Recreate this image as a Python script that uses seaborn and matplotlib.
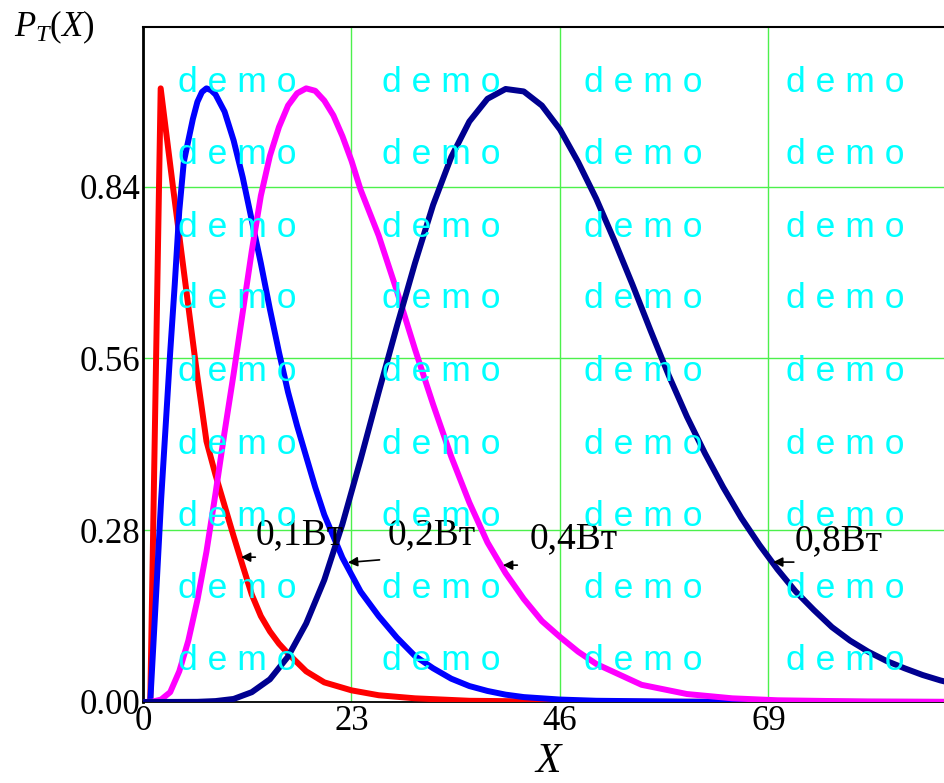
import numpy as np
import pandas as pd
import matplotlib
matplotlib.use('Agg')
import matplotlib.pyplot as plt
import seaborn as sns

# curve samples (X, P_T(X))
x_01 = [0, 0.8, 1.95, 3.3, 4, 5, 6, 7, 8, 9, 10, 11, 12, 13, 14, 15, 16, 18, 20, 23, 26, 30, 36, 46, 92]
p_01 = [0, 0, 1.0, 0.84, 0.76, 0.645, 0.53, 0.425, 0.37, 0.32, 0.27, 0.222, 0.175, 0.14, 0.115, 0.095,
        0.079, 0.05, 0.032, 0.019, 0.011, 0.006, 0.002, 0.0005, 0]

x_02 = [0, 0.8, 1.5, 2, 2.5, 3, 3.5, 4, 4.5, 5, 5.5, 6, 6.5, 7, 7.5, 8, 9, 10, 11, 12, 13, 14, 15, 16,
        17, 18, 19, 20, 22, 24, 26, 28, 30, 32, 34, 36, 38, 40, 42, 46, 50, 60, 92]
p_02 = [0, 0, 0.19, 0.33, 0.45, 0.57, 0.68, 0.8, 0.88, 0.915, 0.95, 0.978, 0.994, 1.0, 0.997, 0.99,
        0.962, 0.915, 0.855, 0.785, 0.715, 0.64, 0.57, 0.505, 0.45, 0.4, 0.35, 0.305, 0.235, 0.18,
        0.14, 0.105, 0.075, 0.055, 0.038, 0.026, 0.018, 0.012, 0.008, 0.004, 0.002, 0.0005, 0]

x_04 = [0, 1, 2, 3, 4, 5, 6, 7, 8, 9, 10, 11, 12, 13, 14, 15, 16, 17, 18, 19, 20, 21, 22, 23, 24,
        26, 28, 30, 32, 34, 36, 38, 40, 42, 44, 46, 48, 50, 55, 60, 65, 70, 80, 92]
p_04 = [0, 0.0004, 0.004, 0.016, 0.05, 0.1, 0.166, 0.245, 0.34, 0.44, 0.535, 0.635, 0.735, 0.825,
        0.89, 0.937, 0.972, 0.992, 1.0, 0.996, 0.98, 0.956, 0.922, 0.882, 0.835, 0.76, 0.67, 0.575,
        0.485, 0.4, 0.325, 0.26, 0.21, 0.168, 0.132, 0.106, 0.082, 0.062, 0.028, 0.013, 0.006, 0.0028,
        0.0007, 0.0001]

x_08 = [0, 6, 8, 10, 12, 14, 16, 18, 20, 22, 24, 26, 28, 30, 32, 34, 36, 38, 40, 42, 44, 46, 48, 50,
        52, 54, 56, 58, 60, 62, 64, 66, 68, 70, 72, 74, 76, 78, 80, 82, 84, 86, 88, 90, 92]
p_08 = [0, 0.0003, 0.0015, 0.005, 0.016, 0.037, 0.074, 0.128, 0.199, 0.29, 0.395, 0.505, 0.612, 0.715,
        0.81, 0.888, 0.946, 0.983, 0.999, 0.995, 0.972, 0.933, 0.88, 0.82, 0.752, 0.68, 0.605, 0.532,
        0.465, 0.405, 0.35, 0.3, 0.256, 0.216, 0.18, 0.15, 0.122, 0.1, 0.082, 0.067, 0.055, 0.044,
        0.035, 0.028, 0.022]

labels = ['0,1Вт', '0,2Вт', '0,4Вт', '0,8Вт']
colors = ['#ff0000', '#0000ff', '#ff00ff', '#000090']

# label arrows: (tip x, tip y, tail x, tail y, text x, text y)
arrows = [(10.5, 0.236, 12.7, 0.236, 12.4, 0.272),
          (22.3, 0.227, 26.4, 0.232, 27.0, 0.272),
          (39.4, 0.223, 41.6, 0.223, 42.7, 0.265),
          (69.2, 0.228, 72.1, 0.228, 71.9, 0.262)]

xticks = [0, 23, 46, 69]
yticks = [0.00, 0.28, 0.56, 0.84]

frames = []
for lab, xs, ps in zip(labels, [x_01, x_02, x_04, x_08], [p_01, p_02, p_04, p_08]):
    frames.append(pd.DataFrame({'X': xs, 'P': ps, 'curve': lab}))
df = pd.concat(frames, ignore_index=True)

sns.set_style('white')
plt.rcParams['font.family'] = ['Liberation Serif', 'DejaVu Serif']
plt.rcParams['mathtext.fontset'] = 'custom'
plt.rcParams['mathtext.it'] = 'Liberation Serif:italic'
plt.rcParams['mathtext.rm'] = 'Liberation Serif'

fig = plt.figure(figsize=(9.45, 7.83), dpi=100)
ax = fig.add_axes([143 / 945, 81 / 783, 834 / 945, 675 / 783])

sns.lineplot(data=df, x='X', y='P', hue='curve', palette=colors, estimator=None, sort=False,
             linewidth=4.3, legend=False, ax=ax, zorder=3)

ax.set_xlim(0, 92)
ax.set_ylim(0, 1.1)
ax.set_xticks(xticks)
ax.set_xticklabels([str(t) for t in xticks])
ax.set_yticks(yticks)
ax.set_yticklabels([f'{t:.2f}' for t in yticks])
ax.set_xticks([11.5, 34.5, 57.5, 80.5], minor=True)
ax.set_yticks([0.14, 0.42, 0.70, 0.98], minor=True)
ax.tick_params(axis='both', which='major', length=0, labelsize=25, pad=2, labelcolor='black')
ax.tick_params(axis='both', which='minor', length=4, width=1.2, direction='in', color='black')
ax.grid(True, which='major', color='#4cf04c', linewidth=1.0)
ax.set_axisbelow(True)
ax.set_xlabel('')
ax.set_ylabel('')
for side in ['left', 'top', 'bottom']:
    ax.spines[side].set_color('black')
ax.spines['left'].set_linewidth(2)
ax.spines['top'].set_linewidth(1.5)
ax.spines['bottom'].set_linewidth(1.3)
ax.spines['right'].set_visible(False)

for lab, (tx, ty, sx, sy, lx, ly) in zip(labels, arrows):
    ax.annotate('', xy=(tx, ty), xytext=(sx, sy),
                arrowprops=dict(arrowstyle='-|>', color='black', lw=1.2, mutation_scale=14),
                zorder=5)
    ax.text(lx, ly, lab, fontsize=27, va='center', ha='left', color='black', zorder=5)

# axis titles
fig.text(14 / 945, 1 - 36 / 783, r'$P_{T}(X)$', fontsize=25, ha='left', va='baseline', color='black')
fig.text(549 / 945, 1 - 762 / 783, r'$X$', fontsize=30, ha='center', va='center', color='black')

# demo watermark
wm_cols = [178, 382, 584, 786]
wm_rows = [82, 155, 227, 299, 371, 444, 516, 588, 660]
for r in wm_rows:
    for c in wm_cols:
        fig.text(c / 945, 1 - r / 783, 'd e m o', fontsize=25.5, color='#00ffff',
                 family='Liberation Sans', ha='left', va='center')

fig.savefig('out.png', dpi=100)
